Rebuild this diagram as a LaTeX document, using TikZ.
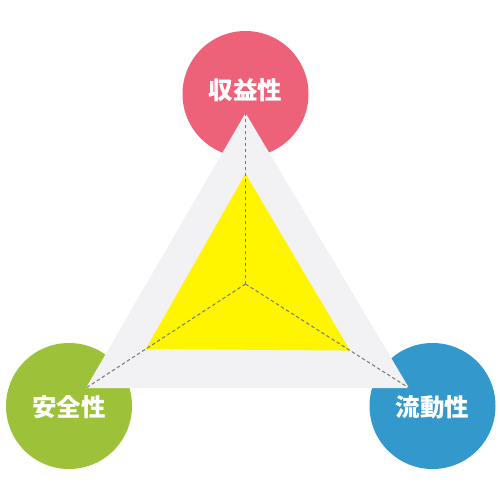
\documentclass[tikz,border=0pt]{standalone}
\usepackage{fontspec}
\newfontfamily\cjk{Noto Sans CJK JP}
\usepackage{tikz}
\usetikzlibrary{calc,positioning}

\definecolor{pinkc}{HTML}{EE6279}
\definecolor{greenc}{HTML}{9DC23A}
\definecolor{bluec}{HTML}{3399CC}
\definecolor{panel}{HTML}{F2F2F4}
\definecolor{yelc}{HTML}{FFF500}
\definecolor{dashc}{HTML}{777777}

\tikzset{
	axis/.style={circle,minimum size=126pt,inner sep=0pt,text=white,font=\cjk\bfseries\fontsize{24.5}{24.5}\selectfont},
	spoke/.style={dashc,dashed,dash pattern=on 3.5pt off 2.5pt,line width=1pt}
}

\begin{document}
\begin{tikzpicture}[x=1pt,y=-1pt]
		\fill[white] (0,0) rectangle (500,500);
		\useasboundingbox (0,0) rectangle (500,500);
		% three criteria
		\node(profit) [axis,fill=pinkc] at (245.5,94) {};
		\node(safety) [axis,fill=greenc] at (69,406) {};
		\node(liquid) [axis,fill=bluec] at (432.5,406) {};
		% frame and value
		\coordinate(top) at (245.5,113);
		\coordinate(left) at (86,388);
		\coordinate(right) at (409,388);
		\coordinate(mid) at (245.5,284);
		\fill[panel] (top) -- (left) -- (right) -- cycle;
		\fill[yelc] ($(mid)!0.645!(top)$) -- ($(mid)!0.625!(left)$) -- ($(mid)!0.64!(right)$) -- cycle;
		\draw[spoke] (mid) -- (top);
		\draw[spoke] (mid) -- (left);
		\draw[spoke] (mid) -- (right);
		% labels
		\node [axis] at ($(profit)+(0,-4)$) {収益性};
		\node [axis] at ($(safety)+(0,1)$) {安全性};
		\node [axis] at ($(liquid)+(0,1)$) {流動性};
	\end{tikzpicture}
\end{document}
